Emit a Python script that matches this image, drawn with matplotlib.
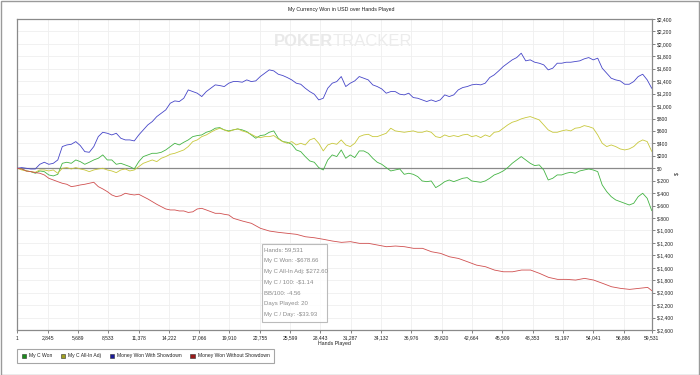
import matplotlib
matplotlib.use("Agg")
import matplotlib.pyplot as plt
from matplotlib.patches import Patch, Rectangle
import numpy as np

plt.rcParams['font.family'] = ['Liberation Sans', 'DejaVu Sans']

# ---------------- data ----------------
hands = list(np.linspace(1, 59531, 142))

my_c_won = [0, -11, -43, -54, -80, -43, -54, -107, -123, -97, 80, 97, 80, 134, 107, 64, 97, 134, 161, 215,
            134, 134, 64, 80, 54, 27, -11, 107, 188, 215, 241, 241, 257, 295, 349, 402, 375, 418, 456, 509,
            526, 536, 579, 601, 644, 654, 617, 601,
            617, 633, 617, 590, 536, 483, 526, 536, 579, 601, 483, 429, 418, 386, 295, 268, 188, 118, 97, 11,
            -27, 134, 215, 188, 295, 161, 215, 172, 279, 279, 241, 161, 97, 64, 11, -43, -27, -11, -97, -80,
            -97, -134, -204, -215, -204, -311,
            -268, -215, -188, -215, -188, -161, -150, -204, -215, -225, -204, -161, -107, -80, -43, 11, 80, 134,
            188, 134, 80, 43, 54, -27, -188, -161, -107, -107, -80, -64, -80, -43, -27, -11, -27, -54, -268,
            -375, -456, -509, -536, -563, -590, -563, -456, -402, -483, -679]

all_in_adj = [0, -27, -43, -54, -64, -27, -27, -43, -27, -80, 0, 11, -11, 11, -11, -27, -54, -27, -11, 0,
              -27, -43, -70, -27, -11, -43, -27, 27, 80, 107, 134, 107, 161, 188, 225, 241, 268, 295, 349, 429,
              456, 509, 536, 579, 617, 644, 617, 590,
              617, 633, 601, 579, 547, 509, 493, 509, 509, 526, 472, 429, 402, 429, 375, 402, 375, 456, 483, 402,
              279, 375, 402, 386, 456, 375, 349, 402, 509, 536, 547, 509, 509, 536, 563, 644, 601, 590, 579, 590,
              601, 579, 579, 601, 579, 509,
              493, 536, 509, 526, 509, 536, 547, 509, 526, 493, 536, 509, 579, 590, 644, 697, 740, 762, 794, 815,
              831, 804, 778, 697, 617, 579, 579, 601, 617, 601, 644, 654, 686, 670, 644, 536, 402, 349, 375, 349,
              311, 295, 311, 349, 418, 456, 429, 273]

with_showdown = [0, 11, 0, -11, -11, 64, 97, 64, 80, 134, 349, 375, 386, 429, 365, 268, 257, 349, 509, 579,
                 563, 536, 563, 483, 456, 456, 440, 536, 617, 697, 751, 831, 885, 939, 1046, 1083, 1073, 1126,
                 1260, 1233, 1207, 1153, 1233, 1287, 1341, 1330, 1314, 1368,
                 1394, 1394, 1384, 1421, 1394, 1405, 1475, 1528, 1582, 1566, 1512, 1491, 1459, 1421, 1368, 1351,
                 1287, 1233, 1191, 1099, 1126, 1287, 1368, 1394, 1475, 1314, 1368, 1405, 1475, 1448, 1421, 1341,
                 1314, 1276, 1207, 1233, 1233, 1191, 1180, 1207, 1137, 1126, 1099, 1073, 1099, 1073,
                 1099, 1180, 1153, 1180, 1260, 1298, 1314, 1341, 1351, 1341, 1368, 1459, 1502, 1566, 1636, 1689,
                 1743, 1780, 1850, 1727, 1743, 1705, 1689, 1663, 1582, 1609, 1689, 1689, 1705, 1705, 1716, 1727,
                 1759, 1780, 1743, 1770, 1609, 1528, 1448, 1421, 1405, 1351, 1351, 1394, 1475, 1512, 1421, 1287]

red_hands = hands[:48] + [1 + 845 * k for k in range(24, 71)] + [59531]
without_showdown = [0, -11, -43, -54, -70, -80, -107, -161, -188, -215, -241, -257, -295, -284, -268, -257,
                    -241, -225, -295, -332, -375, -429, -456, -440, -402, -418, -429, -418, -456, -493, -536,
                    -579, -617, -654, -670, -670, -686, -686, -710, -700, -654, -644, -670, -697, -724, -724,
                    -740, -751,
                    -805, -848, -885, -965, -1009, -1030, -1046, -1062, -1101, -1117, -1142, -1170, -1191,
                    -1180, -1207, -1207, -1234, -1261, -1250, -1261, -1287, -1287, -1342, -1368, -1423, -1450,
                    -1503, -1557, -1583, -1637, -1664,
                    -1664, -1636, -1636, -1690, -1754, -1786, -1786, -1797, -1770, -1797, -1850, -1905, -1931,
                    -1947, -1931, -1915, -1966]

x_ticks = [1, 2845, 5689, 8533, 11378, 14222, 17066, 19910, 22755, 25599, 28443, 31287,
           34132, 36976, 39820, 42664, 45509, 48353, 51197, 54041, 56886, 59531]
y_ticks = list(range(-2600, 2401, 200))

series_names = ["My C Won", "My C All-In Adj", "Money Won With Showdown", "Money Won Without Showdown"]
line_colors = ["#44b444", "#c8c83c", "#4646c8", "#d05050"]
legend_colors = ["#1a8c1a", "#a0a020", "#1a1a9a", "#9a1a1a"]

info_lines = ["Hands: 59,531", "My C Won: -$678.66", "My C All-In Adj: $272.60",
              "My C / 100: -$1.14", "BB/100: -4.56", "Days Played: 20", "My C / Day: -$33.93"]

# ---------------- figure ----------------
W, H = 700, 375
fig = plt.figure(figsize=(W / 100, H / 100), dpi=100)
fig.patch.set_facecolor("white")
fig.patches.append(Rectangle((0.5 / W, 0.5 / H), 1 - 1.5 / W, 1 - 1.5 / H, transform=fig.transFigure,
                             fill=False, edgecolor="#9a9a9a", linewidth=1.0))

L, R, T, B = 17.3, 651.7, 19.0, 330.0
ax = fig.add_axes([L / W, 1 - B / H, (R - L) / W, (B - T) / H])
ax.set_xlim(1, 59531)
ax.set_ylim(-2600, 2400)

ax.set_xticks(x_ticks)
ax.set_xticklabels([f"{v:,}" for v in x_ticks])
ax.set_yticks(y_ticks)
ax.set_yticklabels([f"${v:,}" for v in y_ticks])
ax.yaxis.tick_right()
ax.tick_params(axis="both", labelsize=3.6, colors="#505050", length=2.5, width=0.5, pad=1.5)
ax.tick_params(axis="both", labelcolor="#202020")
ax.grid(True, color="#efefef", linewidth=0.6)
ax.set_axisbelow(True)
for s in ax.spines.values():
    s.set_color("#8a8a8a")
    s.set_linewidth(0.9)

ax.axhline(0, color="#8a8a8a", linewidth=0.9, zorder=1)

# watermark
fig.text(333 / W, 1 - 41 / H, "POKER", fontsize=12, fontweight="bold", color="#e9e9e9",
         ha="right", va="center")
fig.text(333 / W, 1 - 41 / H, "TRACKER", fontsize=12, color="#ececec", ha="left", va="center")

series = [(hands, my_c_won), (hands, all_in_adj), (hands, with_showdown), (red_hands, without_showdown)]
for (xs, vals), col in zip(series, line_colors):
    ax.plot(xs, vals, color=col, linewidth=0.6, zorder=3)

fig.text(341 / W, 1 - 10 / H, "My Currency Won in USD over Hands Played", fontsize=3.8,
         color="#202020", ha="center", va="center")
fig.text(334 / W, 1 - 344 / H, "Hands Played", fontsize=3.8, color="#202020", ha="center", va="center")
fig.text(677 / W, 1 - 173 / H, "$", fontsize=3.8, color="#202020", ha="center", va="center", rotation=90)

# info box
bx0, by0, bx1, by1 = 262, 244, 327, 322
fig.patches.append(Rectangle((bx0 / W, 1 - by1 / H), (bx1 - bx0) / W, (by1 - by0) / H,
                             transform=fig.transFigure, facecolor="white", alpha=0.85,
                             edgecolor="#b0b0b0", linewidth=0.8, zorder=5))
for i, line in enumerate(info_lines):
    fig.text(264.5 / W, 1 - (250 + i * 10.8) / H, line, fontsize=4.3, color="#8a8a8a",
             ha="left", va="center", zorder=6)

# legend
handles = [Patch(facecolor=c, edgecolor="#303030", linewidth=0.4) for c in legend_colors]
leg = fig.legend(handles, series_names, loc="lower left",
                 bbox_to_anchor=(17 / W, 1 - 363 / H), ncol=4, fontsize=3.6,
                 frameon=True, fancybox=False, handlelength=0.9, handleheight=0.9,
                 handletextpad=0.6, columnspacing=1.7, borderpad=0.9, borderaxespad=0)
leg.get_frame().set_edgecolor("#909090")
leg.get_frame().set_linewidth(0.8)
for t in leg.get_texts():
    t.set_color("#202020")

fig.savefig("out.png", dpi=100)
